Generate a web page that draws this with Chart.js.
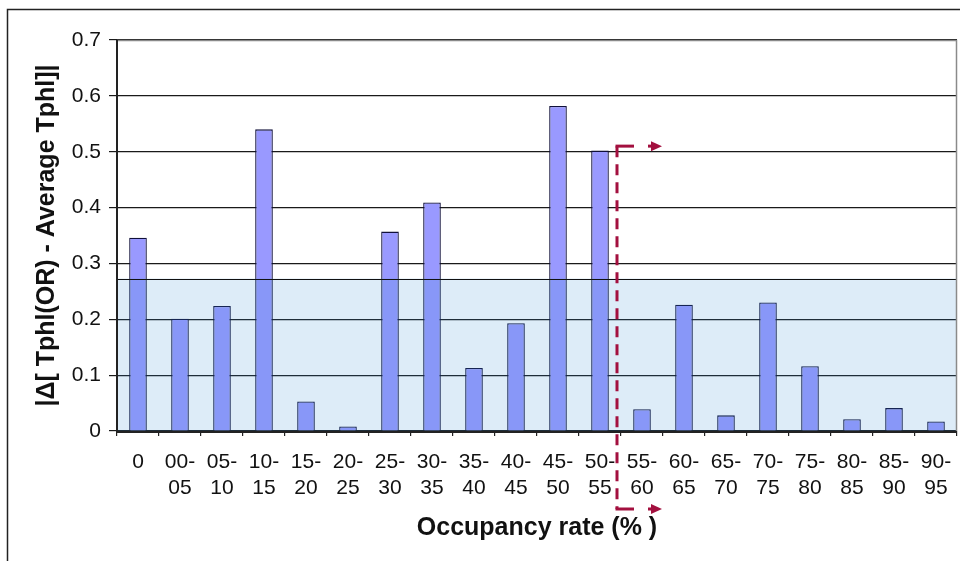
<!DOCTYPE html>
<html>
<head>
<meta charset="utf-8">
<script src="https://cdn.jsdelivr.net/npm/chart.js@4.4.1/dist/chart.umd.min.js"></script>
<style>
  html, body { margin: 0; padding: 0; background: #fff; }
  #wrap { width: 960px; height: 561px; position: relative; }
</style>
</head>
<body>
<div id="wrap"><canvas id="c" width="960" height="561"></canvas></div>
<script>
// Occupancy-rate classes (%)
const categories = [
  ['0'], ['00-', '05'], ['05-', '10'], ['10-', '15'], ['15-', '20'],
  ['20-', '25'], ['25-', '30'], ['30-', '35'], ['35-', '40'], ['40-', '45'],
  ['45-', '50'], ['50-', '55'], ['55-', '60'], ['60-', '65'], ['65-', '70'],
  ['70-', '75'], ['75-', '80'], ['80-', '85'], ['85-', '90'], ['90-', '95']
];

// |Δ[Tphl(OR) - average Tphl]| per class
const deltaTphl = [
  0.346, 0.201, 0.224, 0.540, 0.053,
  0.008, 0.357, 0.409, 0.113, 0.193,
  0.582, 0.502, 0.039, 0.226, 0.028,
  0.230, 0.116, 0.021, 0.041, 0.017
];

// Y axis ticks
const yTicks = [0, 0.1, 0.2, 0.3, 0.4, 0.5, 0.6, 0.7];

// Shaded reference band (mean level) and the split marker
const bandLevel = 0.273;
const splitAfterIndex = 11;   // marker sits between 50-55 and 55-60
const splitTopValue = 0.51;

const FONT = 'Liberation Sans, Arial, Helvetica, sans-serif';

const overlay = {
  id: 'overlay',
  beforeDraw(chart) {
    const ctx = chart.ctx;
    ctx.save();
    ctx.fillStyle = '#ffffff';
    ctx.fillRect(0, 0, chart.width, chart.height);
    // outer frame
    ctx.strokeStyle = '#222';
    ctx.lineWidth = 1.5;
    ctx.beginPath();
    ctx.moveTo(7.5, chart.height);
    ctx.lineTo(7.5, 9.5);
    ctx.lineTo(chart.width, 9.5);
    ctx.stroke();
    ctx.restore();
  },
  afterDatasetsDraw(chart) {
    const ctx = chart.ctx;
    const a = chart.chartArea;
    const x = chart.scales.x, y = chart.scales.y;
    const yb = y.getPixelForValue(bandLevel);
    const y0 = y.getPixelForValue(0);
    ctx.save();
    // translucent band over the bars
    ctx.fillStyle = 'rgba(56,141,215,0.17)';
    ctx.fillRect(a.left, yb, a.right - a.left, y0 - yb);
    ctx.strokeStyle = '#111';
    ctx.lineWidth = 1.2;
    ctx.beginPath();
    ctx.moveTo(a.left, Math.round(yb) + 0.5);
    ctx.lineTo(a.right, Math.round(yb) + 0.5);
    ctx.stroke();

    // plot-area border (top / right grey)
    ctx.strokeStyle = '#8a8a8a';
    ctx.lineWidth = 1.5;
    ctx.beginPath();
    ctx.moveTo(a.left, a.top + 0.5);
    ctx.lineTo(a.right - 0.5, a.top + 0.5);
    ctx.lineTo(a.right - 0.5, y0);
    ctx.stroke();

    // axis lines
    ctx.strokeStyle = '#222';
    ctx.lineWidth = 2;
    ctx.beginPath();
    ctx.moveTo(a.left, a.top);
    ctx.lineTo(a.left, y0 + 1);
    ctx.lineTo(a.right, y0 + 1);
    ctx.stroke();

    // dashed split marker with arrows
    const mx = (x.getPixelForValue(splitAfterIndex) + x.getPixelForValue(splitAfterIndex + 1)) / 2 - 4;
    const top = y.getPixelForValue(splitTopValue);
    const bottom = y0 + 78;
    ctx.strokeStyle = '#a3103f';
    ctx.fillStyle = '#a3103f';
    ctx.lineWidth = 3;
    ctx.setLineDash([11, 7]);
    ctx.beginPath();
    ctx.moveTo(mx, top);
    ctx.lineTo(mx, bottom);
    ctx.stroke();
    ctx.setLineDash([]);
    [top, bottom].forEach(function (yy) {
      ctx.beginPath();
      ctx.moveTo(mx - 1.5, yy);
      ctx.lineTo(mx + 17, yy);
      ctx.stroke();
      ctx.beginPath();
      ctx.moveTo(mx + 31, yy);
      ctx.lineTo(mx + 36, yy);
      ctx.stroke();
      ctx.beginPath();
      ctx.moveTo(mx + 45, yy);
      ctx.lineTo(mx + 34, yy - 5);
      ctx.lineTo(mx + 34, yy + 5);
      ctx.closePath();
      ctx.fill();
    });
    ctx.restore();
  }
};

new Chart(document.getElementById('c'), {
  type: 'bar',
  data: {
    labels: categories,
    datasets: [{
      data: deltaTphl,
      backgroundColor: '#9999ff',
      borderColor: '#10103a',
      borderWidth: 1.3,
      barPercentage: 0.42,
      categoryPercentage: 1.0
    }]
  },
  options: {
    responsive: false,
    animation: false,
    devicePixelRatio: 1,
    layout: { padding: { left: 0, right: 3, top: 40, bottom: 0 } },
    plugins: {
      legend: { display: false },
      tooltip: { enabled: false }
    },
    scales: {
      x: {
        grid: {
          display: true,
          offset: true,
          drawOnChartArea: false,
          drawTicks: true,
          tickLength: 5,
          color: '#222',
          lineWidth: 1.2
        },
        border: { display: false },
        ticks: {
          color: '#111',
          font: { family: FONT, size: 21, lineHeight: '26px' },
          padding: 13,
          maxRotation: 0,
          autoSkip: false
        },
        title: {
          display: true,
          text: 'Occupancy rate (% )',
          color: '#111',
          font: { family: FONT, size: 25, weight: 'bold' },
          padding: { top: 0, bottom: 18 }
        },
        afterFit(scale) {
          scale.height = 130;
          scale.paddingLeft = 0;
          scale.paddingRight = 0;
        }
      },
      y: {
        min: 0,
        max: 0.7,
        afterBuildTicks(scale) { scale.ticks = yTicks.map(v => ({ value: v })); },
        grid: {
          color: '#1a1a1a',
          lineWidth: 1.2,
          drawTicks: true,
          tickLength: 8
        },
        border: { display: false },
        ticks: {
          color: '#111',
          font: { family: FONT, size: 21 },
          padding: 8,
          callback: v => (v === 0 ? '0' : v.toFixed(1))
        },
        title: {
          display: true,
          text: '|\u0394[ Tphl(OR) - Average Tphl]|',
          color: '#111',
          font: { family: FONT, size: 25, weight: 'bold' },
          padding: { top: 32, bottom: 0 }
        },
        afterFit(scale) { scale.width = 117; }
      }
    }
  },
  plugins: [overlay]
});
</script>
</body>
</html>
